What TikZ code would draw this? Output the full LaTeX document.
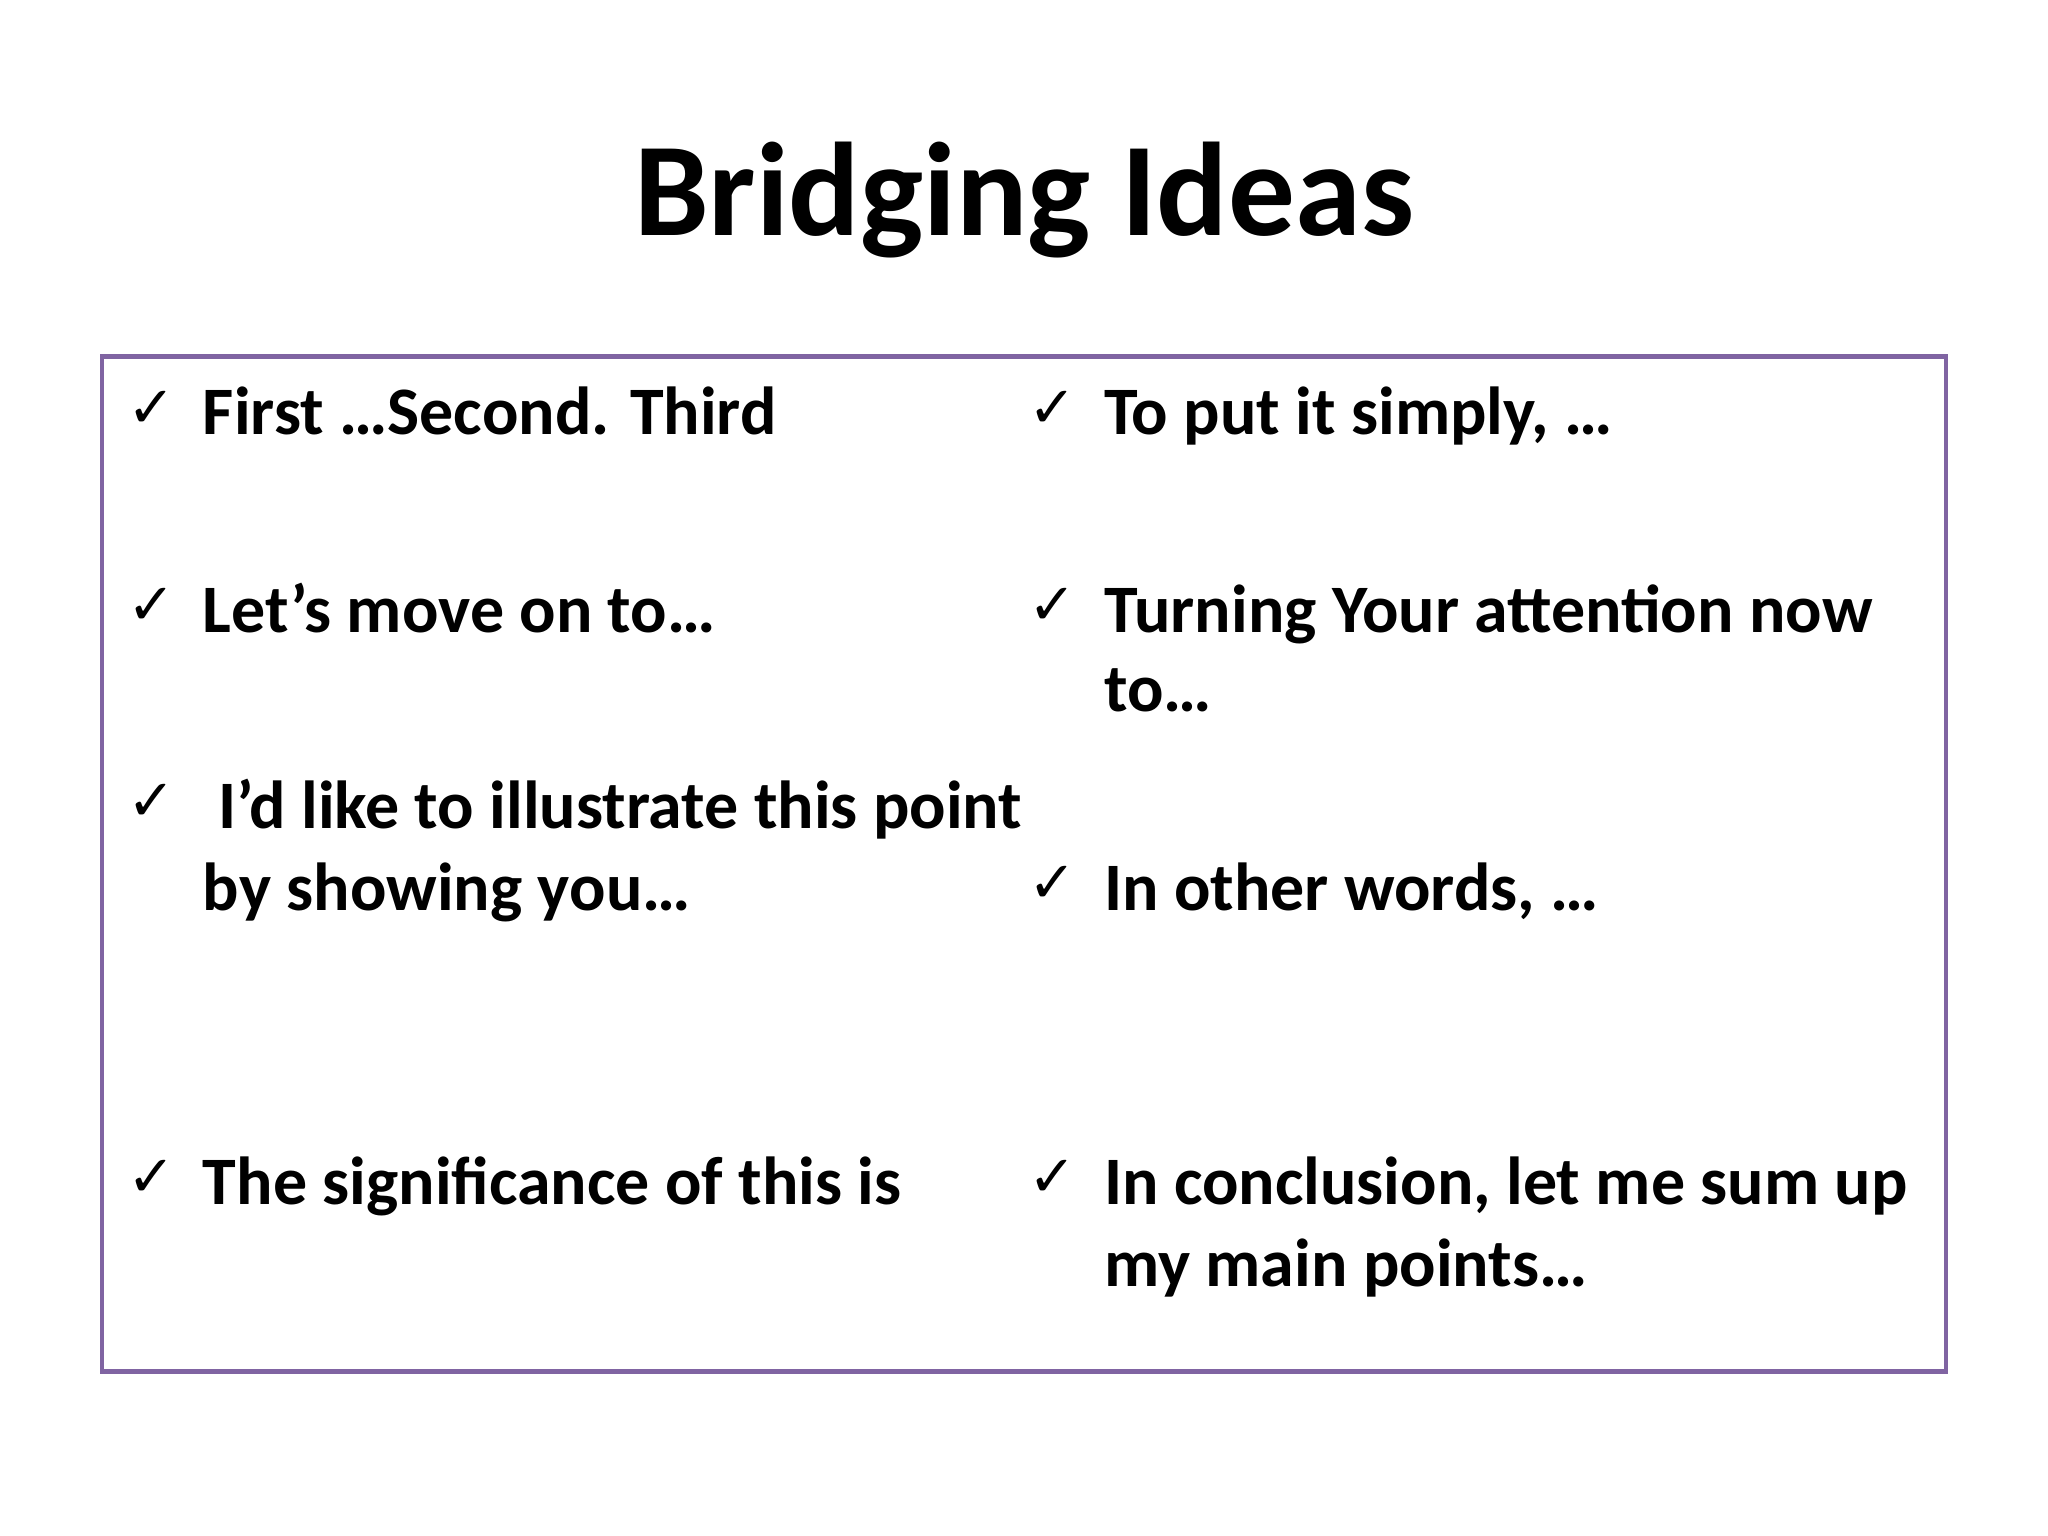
\documentclass[tikz,border=0pt]{standalone}
\usepackage{fontspec}
\setmainfont{Carlito}
\newfontfamily\symf{DejaVu Sans}
\definecolor{boxpurple}{RGB}{128,100,162}
\begin{document}
\begin{tikzpicture}[x=0.5pt,y=-0.5pt,
  item/.style={anchor=base west,inner sep=0pt,font=\fontsize{26}{31}\selectfont\bfseries},
  chk/.style={anchor=base west,inner sep=0pt,font=\fontsize{22}{26}\selectfont\symf}]
\useasboundingbox (0,0) rectangle (1568,1176);
\node[anchor=base,inner sep=0pt,font=\fontsize{51}{60}\selectfont\bfseries] (title) at (784,180) {Bridging Ideas};
\draw[boxpurple,line width=1.6pt] (78,273) rectangle (1490,1050);
\node[chk] (c1) at (97,327) {✓};
\node[item] (i1) at (155,333) {First …Second. Third};
\node[chk] (c2) at (97,478) {✓};
\node[item] (i2) at (155,484) {Let’s move on to…};
\node[chk] (c3) at (97,628) {✓};
\node[item] (i3) at (155,634) {\ I’d like to illustrate this point};
\node[item] (i3b) at (155,697) {by showing you…};
\node[chk] (c4) at (97,916) {✓};
\node[item] (i4) at (155,922) {The significance of this is};
\node[chk] (d1) at (787,327) {✓};
\node[item] (j1) at (845,333) {To put it simply, …};
\node[chk] (d2) at (787,478) {✓};
\node[item] (j2) at (845,484) {Turning Your attention now};
\node[item] (j2b) at (845,545) {to…};
\node[chk] (d3) at (787,691) {✓};
\node[item] (j3) at (845,697) {In other words, …};
\node[chk] (d4) at (787,916) {✓};
\node[item] (j4) at (845,922) {In conclusion, let me sum up};
\node[item] (j4b) at (845,985) {my main points…};
\end{tikzpicture}
\end{document}
